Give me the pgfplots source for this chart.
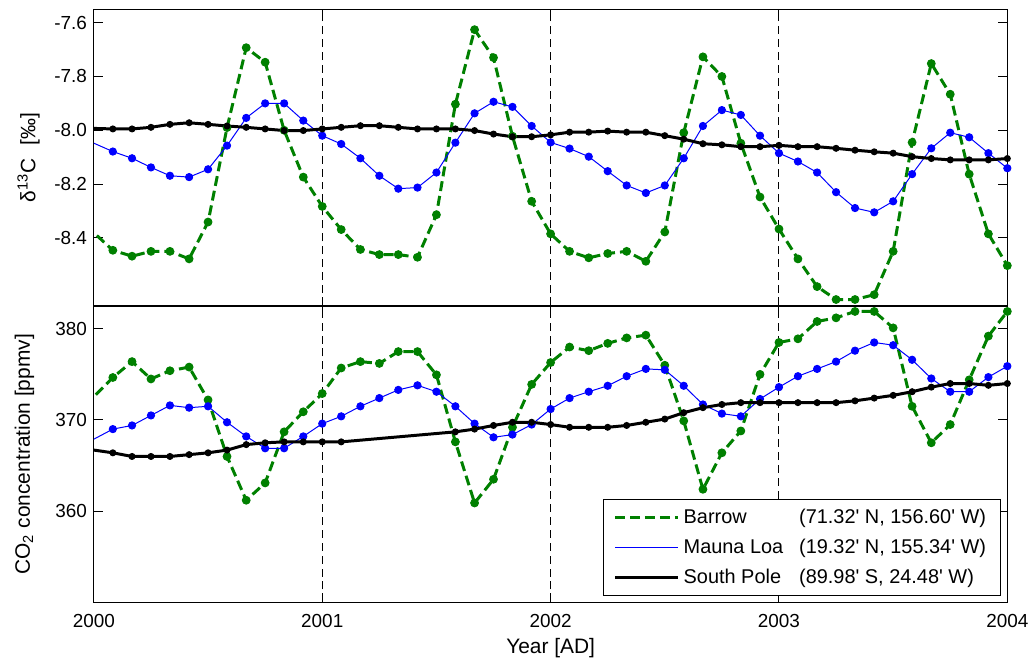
\documentclass[border=0pt]{standalone}
\usepackage{pgfplots}
\pgfplotsset{compat=1.18}
\usepackage{pgfplotstable}
\usepackage{fontspec}
\setmainfont{Liberation Sans}
\newfontfamily\plainsans{Liberation Sans}
\definecolor{mgreen}{rgb}{0,0.5,0}

% ---------- top panel: delta 13C ----------
\pgfplotstableread{
x y
1999.917 -8.316
2000.083 -8.446
2000.167 -8.468
2000.250 -8.450
2000.333 -8.450
2000.417 -8.478
2000.500 -8.341
2000.583 -7.990
2000.667 -7.693
2000.750 -7.747
2000.833 -8.000
2000.917 -8.174
2001.000 -8.283
2001.083 -8.369
2001.167 -8.443
2001.250 -8.462
2001.333 -8.462
2001.417 -8.472
2001.500 -8.314
2001.583 -7.903
2001.667 -7.626
2001.750 -7.730
2001.833 -8.022
2001.917 -8.264
2002.000 -8.385
2002.083 -8.450
2002.167 -8.474
2002.250 -8.458
2002.333 -8.450
2002.417 -8.487
2002.500 -8.378
2002.583 -8.009
2002.667 -7.727
2002.750 -7.800
2002.833 -8.048
2002.917 -8.248
2003.000 -8.367
2003.083 -8.478
2003.167 -8.581
2003.250 -8.629
2003.333 -8.629
2003.417 -8.611
2003.500 -8.450
2003.583 -8.045
2003.667 -7.752
2003.750 -7.866
2003.833 -8.163
2003.917 -8.385
2004.000 -8.503
}\topB

\pgfplotstableread{
x y
1999.917 -8.017
2000.083 -8.079
2000.167 -8.104
2000.250 -8.138
2000.333 -8.169
2000.417 -8.174
2000.500 -8.145
2000.583 -8.057
2000.667 -7.954
2000.750 -7.900
2000.833 -7.900
2000.917 -7.964
2001.000 -8.020
2001.083 -8.051
2001.167 -8.104
2001.250 -8.169
2001.333 -8.217
2001.417 -8.213
2001.500 -8.157
2001.583 -8.046
2001.667 -7.937
2001.750 -7.894
2001.833 -7.913
2001.917 -7.984
2002.000 -8.045
2002.083 -8.068
2002.167 -8.098
2002.250 -8.152
2002.333 -8.205
2002.417 -8.233
2002.500 -8.205
2002.583 -8.104
2002.667 -7.984
2002.750 -7.925
2002.833 -7.943
2002.917 -8.020
2003.000 -8.085
2003.083 -8.116
2003.167 -8.157
2003.250 -8.230
2003.333 -8.289
2003.417 -8.305
2003.500 -8.264
2003.583 -8.163
2003.667 -8.067
2003.750 -8.009
2003.833 -8.026
2003.917 -8.085
2004.000 -8.141
}\topM

\pgfplotstableread{
x y
1999.917 -7.991
2000.083 -7.995
2000.167 -7.995
2000.250 -7.989
2000.333 -7.978
2000.417 -7.972
2000.500 -7.978
2000.583 -7.984
2000.667 -7.989
2000.750 -7.995
2000.833 -8.001
2000.917 -8.001
2001.000 -7.995
2001.083 -7.989
2001.167 -7.983
2001.250 -7.983
2001.333 -7.989
2001.417 -7.995
2001.500 -7.995
2001.583 -7.995
2001.667 -8.001
2001.750 -8.014
2001.833 -8.024
2001.917 -8.024
2002.000 -8.017
2002.083 -8.007
2002.167 -8.007
2002.250 -8.003
2002.333 -8.007
2002.417 -8.007
2002.500 -8.020
2002.583 -8.033
2002.667 -8.050
2002.750 -8.054
2002.833 -8.061
2002.917 -8.061
2003.000 -8.056
2003.083 -8.061
2003.167 -8.061
2003.250 -8.067
2003.333 -8.074
2003.417 -8.080
2003.500 -8.085
2003.583 -8.098
2003.667 -8.105
2003.750 -8.110
2003.833 -8.110
2003.917 -8.110
2004.000 -8.105
}\topS

% ---------- bottom panel: CO2 ----------
\pgfplotstableread{
x y
1999.917 370.44
2000.083 374.66
2000.167 376.4
2000.250 374.5
2000.333 375.4
2000.417 375.8
2000.500 372.2
2000.583 366.0
2000.667 361.2
2000.750 363.1
2000.833 368.7
2000.917 370.9
2001.000 372.9
2001.083 375.7
2001.167 376.4
2001.250 376.2
2001.333 377.5
2001.417 377.5
2001.500 374.95
2001.583 367.6
2001.667 360.9
2001.750 363.5
2001.833 369.2
2001.917 373.9
2002.000 376.3
2002.083 378.0
2002.167 377.6
2002.250 378.4
2002.333 379.0
2002.417 379.3
2002.500 376.0
2002.583 369.9
2002.667 362.4
2002.750 366.4
2002.833 368.8
2002.917 375.0
2003.000 378.5
2003.083 378.9
2003.167 380.8
2003.250 381.2
2003.333 381.9
2003.417 381.9
2003.500 380.1
2003.583 371.5
2003.667 367.5
2003.750 369.5
2003.833 374.4
2003.917 379.2
2004.000 381.9
}\botB

\pgfplotstableread{
x y
1999.917 366.8
2000.083 369.0
2000.167 369.4
2000.250 370.5
2000.333 371.6
2000.417 371.35
2000.500 371.5
2000.583 369.75
2000.667 368.2
2000.750 366.9
2000.833 366.9
2000.917 368.2
2001.000 369.6
2001.083 370.4
2001.167 371.5
2001.250 372.4
2001.333 373.3
2001.417 373.8
2001.500 373.1
2001.583 371.5
2001.667 369.6
2001.750 368.1
2001.833 368.4
2001.917 369.5
2002.000 371.2
2002.083 372.4
2002.167 373.1
2002.250 373.75
2002.333 374.8
2002.417 375.6
2002.500 375.5
2002.583 373.75
2002.667 371.7
2002.750 370.7
2002.833 370.4
2002.917 372.3
2003.000 373.6
2003.083 374.8
2003.167 375.6
2003.250 376.4
2003.333 377.6
2003.417 378.5
2003.500 378.2
2003.583 376.6
2003.667 374.55
2003.750 373.1
2003.833 373.1
2003.917 374.7
2004.000 375.9
}\botM

\pgfplotstableread{
x y
1999.917 367.0
2000.083 366.4
2000.167 366.0
2000.250 366.0
2000.333 366.0
2000.417 366.2
2000.500 366.4
2000.583 366.7
2000.667 367.3
2000.750 367.5
2000.833 367.6
2000.917 367.6
2001.000 367.6
2001.083 367.6
2001.583 368.7
2001.667 369.0
2001.750 369.4
2001.833 369.75
2001.917 369.75
2002.000 369.5
2002.083 369.2
2002.167 369.2
2002.250 369.2
2002.333 369.4
2002.417 369.75
2002.500 370.1
2002.583 370.8
2002.667 371.35
2002.750 371.7
2002.833 371.9
2002.917 371.9
2003.000 371.9
2003.083 371.9
2003.167 371.9
2003.250 371.9
2003.333 372.1
2003.417 372.4
2003.500 372.7
2003.583 373.1
2003.667 373.6
2003.750 374.0
2003.833 374.0
2003.917 373.8
2004.000 374.0
}\botS

\begin{document}
\begin{tikzpicture}
\pgfplotsset{
  every axis/.append style={
    scale only axis, width=458.7pt, height=148.75pt,
    xmin=2000, xmax=2004, xtick={2000,2001,2002,2003,2004},
    tick align=inside, major tick length=4.5pt,
    axis line style={line width=0.5pt},
    every tick/.style={black, line width=0.5pt},
    xmajorgrids,
    major grid style={black, line width=0.5pt, dash pattern=on 4pt off 2.5pt},
    tick label style={font=\fontsize{9.5}{11}\selectfont},
    label style={font=\fontsize{10.5}{12}\selectfont},
    /pgf/number format/assume math mode=true,
    /pgf/number format/1000 sep={},
  },
  lB/.style={forget plot, draw=mgreen, line width=1.5pt, dash pattern=on 5pt off 2.5pt, mark=none},
  lM/.style={forget plot, draw=blue, line width=0.5pt, mark=none},
  lS/.style={forget plot, draw=black, line width=1.5pt, mark=none},
  mB/.style={only marks, forget plot, restrict x to domain=2000:2004.01,
    mark=*, mark size=1.95pt, mark options={solid, fill=mgreen, draw=mgreen, line width=0.5pt}},
  mM/.style={only marks, forget plot, restrict x to domain=2000:2004.01,
    mark=*, mark size=1.8pt, mark options={solid, fill=blue, draw=blue, line width=0.5pt}},
  mS/.style={only marks, forget plot, restrict x to domain=2000:2004.01,
    mark=*, mark size=1.5pt, mark options={solid, fill=black, draw=black, line width=0.5pt}},
}

\begin{axis}[name=top, at={(0,148.85pt)}, anchor=south west,
  ymin=-8.653, ymax=-7.552, ytick={-8.4,-8.2,-8.0,-7.8,-7.6},
  xticklabels={},
  yticklabel style={/pgf/number format/.cd, fixed, fixed zerofill, precision=1},
  ylabel={δ\textsuperscript{13}C\hspace{6.5pt}[‰]},
  ylabel style={at={(axis description cs:-0.0715,0.5)}, anchor=center},
]
\addplot[lB] table[x=x,y=y] {\topB};
\addplot[mB] table[x=x,y=y] {\topB};
\addplot[lM] table[x=x,y=y] {\topM};
\addplot[mM] table[x=x,y=y] {\topM};
\addplot[lS] table[x=x,y=y] {\topS};
\addplot[mS] table[x=x,y=y] {\topS};
\end{axis}

\begin{axis}[name=bot, at={(0,0)}, anchor=south west,
  ymin=350, ymax=382.48, ytick={360,370,380},
  xticklabel style={yshift=-2.4pt},
  xlabel={Year [AD]},
  xlabel style={at={(axis description cs:0.5,0)}, anchor=center, yshift=-23pt},
  ylabel={CO\textsubscript{2} concentration [ppmv]},
  ylabel style={at={(axis description cs:-0.0761,0.5)}, anchor=center},
  legend style={at={(0.993,0.021)}, anchor=south east, draw=black, line width=0.5pt,
    fill=white, font=\fontsize{10}{12}\selectfont, inner xsep=5pt, inner ysep=2.5pt,
    row sep=2pt, nodes={inner sep=2.2pt},
    /tikz/every even column/.append style={column sep=2pt}},
  legend cell align=left,
  legend image code/.code={\draw[#1] (0pt,0pt) -- (31.5pt,0pt);},
]
\addplot[lB] table[x=x,y=y] {\botB};
\addplot[mB] table[x=x,y=y] {\botB};
\addplot[lM] table[x=x,y=y] {\botM};
\addplot[mM] table[x=x,y=y] {\botM};
\addplot[lS] table[x=x,y=y] {\botS};
\addplot[mS] table[x=x,y=y] {\botS};
\addlegendimage{color=mgreen, draw=mgreen, line width=1.5pt, dash pattern=on 5pt off 2.5pt}
\addlegendentry{\plainsans\makebox[58pt][l]{Barrow}(71.32' N, 156.60' W)}
\addlegendimage{color=blue, draw=blue, line width=0.6pt}
\addlegendentry{\plainsans\makebox[58pt][l]{Mauna Loa}(19.32' N, 155.34' W)}
\addlegendimage{color=black, draw=black, line width=1.5pt}
\addlegendentry{\plainsans\makebox[58pt][l]{South Pole}(89.98' S, 24.48' W)}
\end{axis}

\path[use as bounding box] (-47.15pt,-28.5pt) rectangle (470.35pt,302.5pt);
\end{tikzpicture}
\end{document}
